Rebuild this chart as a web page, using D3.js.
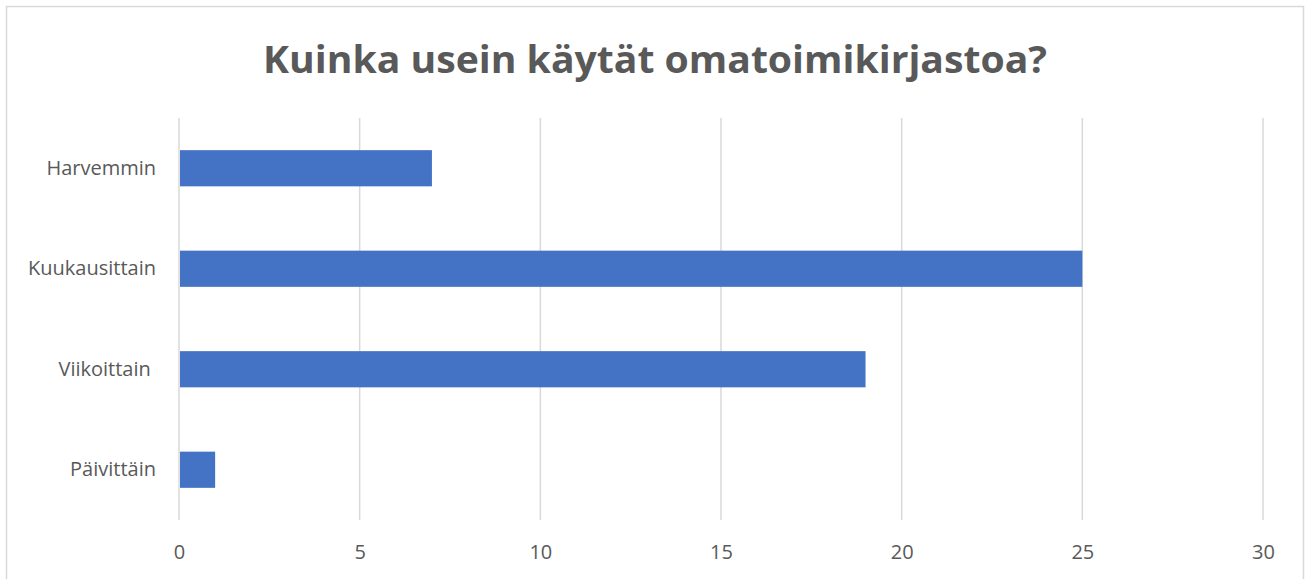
<!DOCTYPE html>
<html>
<head>
<meta charset="utf-8">
<script src="https://cdn.jsdelivr.net/npm/d3@7"></script>
<style>
  body { margin: 0; background: #fff; }
  text { font-family: "Open Sans", "DejaVu Sans", sans-serif; fill: #595959; }
</style>
</head>
<body>
<div id="chart"></div>
<script>
// data
var categories = ["Harvemmin", "Kuukausittain", "Viikoittain ", "Päivittäin"];
var values = [7, 25, 19, 1];
var xTicks = [0, 5, 10, 15, 20, 25, 30];
var title = "Kuinka usein käytät omatoimikirjastoa?";

var width = 1306, height = 579;
var margin = {top: 118, right: 43, bottom: 59, left: 179};

var svg = d3.select("#chart").append("svg")
  .attr("width", width)
  .attr("height", height);

// outer frame
svg.append("rect")
  .attr("x", 6.5).attr("y", 6.5)
  .attr("width", 1297).attr("height", 574)
  .attr("fill", "none")
  .attr("stroke", "#d9d9d9")
  .attr("stroke-width", 1.5);

var x = d3.scaleLinear()
  .domain([0, 30])
  .range([margin.left, width - margin.right]);

var y = d3.scaleBand()
  .domain(categories)
  .range([margin.top, height - margin.bottom])
  .paddingInner(0.64)
  .paddingOuter(0.32);

/* gridlines */
svg.append("g")
  .selectAll("line")
  .data(xTicks).enter()
  .append("line")
  .attr("x1", d => x(d)).attr("x2", d => x(d))
  .attr("y1", margin.top).attr("y2", height - margin.bottom)
  .attr("stroke", "#d9d9d9")
  .attr("stroke-width", 1.5);

/* bars */
svg.append("g")
  .selectAll("rect")
  .data(values).enter()
  .append("rect")
  .attr("x", x(0) + 1)
  .attr("y", (d, i) => y(categories[i]))
  .attr("width", d => x(d) - x(0) - 1)
  .attr("height", y.bandwidth())
  .attr("fill", "#4472c4");

/* x axis labels */
var xAxis = d3.axisBottom(x).tickValues(xTicks).tickSize(0).tickPadding(0);
svg.append("g")
  .attr("transform", `translate(0, ${height - margin.bottom})`)
  .call(xAxis)
  .call(g => g.select(".domain").remove())
  .selectAll("text")
  .attr("dy", null)
  .attr("y", 39)
  .style("font-size", "20px")
  .style("font-family", '"Open Sans", sans-serif')
  .attr("fill", "#595959");

/* y axis labels */
var yAxis = d3.axisLeft(y).tickSize(0).tickPadding(23);
svg.append("g")
  .attr("transform", `translate(${margin.left}, 0)`)
  .call(yAxis)
  .call(g => g.select(".domain").remove())
  .selectAll("text")
  .style("font-size", "20px")
  .style("font-family", '"Open Sans", sans-serif')
  .style("white-space", "pre")
  .attr("fill", "#595959");

/* title */
svg.append("text")
  .attr("x", 655)
  .attr("y", 73)
  .attr("text-anchor", "middle")
  .style("font-size", "38px")
  .style("font-weight", "bold")
  .attr("textLength", 784)
  .attr("lengthAdjust", "spacingAndGlyphs")
  .text(title);
</script>
</body>
</html>
